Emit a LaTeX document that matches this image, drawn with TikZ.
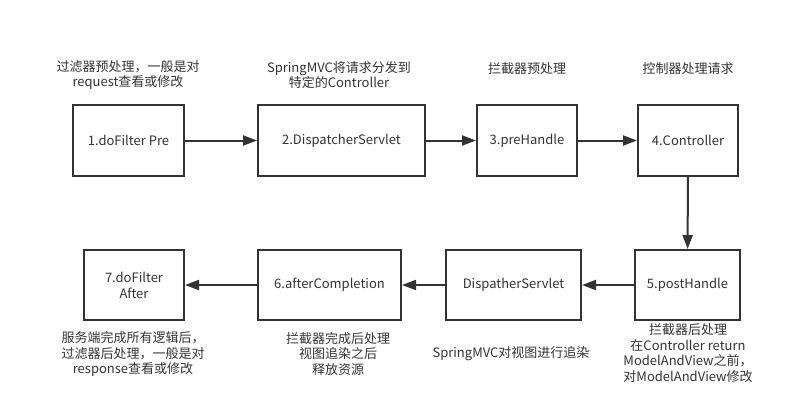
\documentclass[tikz,border=0pt]{standalone}
\usepackage{fontspec}
\setmainfont{Noto Sans CJK SC}
\usetikzlibrary{arrows.meta,positioning}
\definecolor{ink}{HTML}{333333}

\begin{document}
\begin{tikzpicture}[
    x=1pt, y=-1pt,
    block/.style={draw=ink, line width=2pt, align=center, inner sep=0pt, text=ink,
      minimum height=71pt, font=\fontsize{13}{16}\selectfont},
    note/.style={align=center, inner sep=0pt, text=ink, font=\fontsize{13}{15.5}\selectfont},
    arrow/.style={draw=ink, line width=2pt, -{Triangle[length=14pt,width=10pt]}}
]
\useasboundingbox (0,0) rectangle (799,405);
% top row
\node[block, minimum width=111pt] (filterpre) at (128.5,140.5) {1.doFilter Pre};
\node[block, minimum width=167pt] (dispatch) at (341.5,140.5) {2.DispatcherServlet};
\node[block, minimum width=100pt] (prehandle) at (527,140.5) {3.preHandle};
\node[block, minimum width=100pt] (controller) at (688,140.5) {4.Controller};
% bottom row
\node[block, minimum width=105pt, minimum height=70pt] (posthandle) at (687.5,285) {5.postHandle};
\node[block, minimum width=135pt, minimum height=70pt] (render) at (513.5,285) {DispatherServlet};
\node[block, minimum width=143pt, minimum height=70pt] (aftercomp) at (329.5,285) {6.afterCompletion};
\node[block, minimum width=100pt, minimum height=70pt] (filterafter) at (134,285) {7.doFilter\\After};
% notes
\node[note] (notefilterpre) at (128,75) {过滤器预处理，一般是对\\request查看或修改};
\node[note] (notedispatch) at (339,75) {SpringMVC将请求分发到\\特定的Controller};
\node[note] (noteprehandle) at (527,69) {拦截器预处理};
\node[note] (notecontroller) at (688,69) {控制器处理请求};
\node[note] (noteposthandle) at (688,353) {拦截器后处理\\在Controller return\\ModelAndView之前，\\对ModelAndView修改};
\node[note] (noterender) at (511,354) {SpringMVC对视图进行追染};
\node[note] (noteaftercomp) at (338,354) {拦截器完成后处理\\视图追染之后\\释放资源};
\node[note] (notefilterafter) at (133,354) {服务端完成所有逻辑后，\\过滤器后处理，一般是对\\response查看或修改};
% flow
\draw[arrow] (filterpre) -- (dispatch);
\draw[arrow] (dispatch) -- (prehandle);
\draw[arrow] (prehandle) -- (controller);
\draw[arrow] (controller) -- (posthandle);
\draw[arrow] (posthandle) -- (render);
\draw[arrow] (render) -- (aftercomp);
\draw[arrow] (aftercomp) -- (filterafter);
\end{tikzpicture}
\end{document}
